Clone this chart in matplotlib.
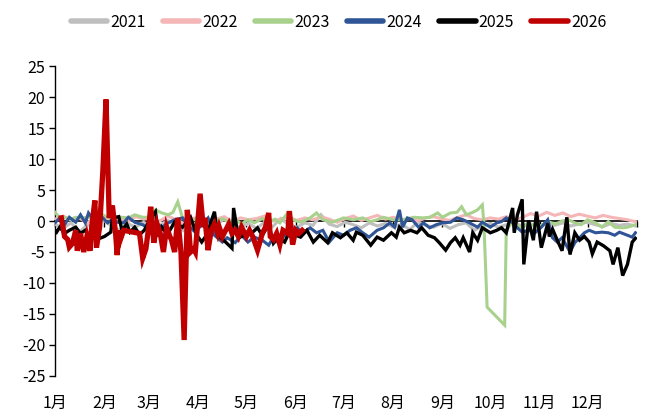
import numpy as np
import matplotlib
matplotlib.use("Agg")
import matplotlib.pyplot as plt
import matplotlib.transforms as mtransforms

plt.rcParams['font.family'] = ['Liberation Sans Narrow', 'Noto Sans CJK SC', 'DejaVu Sans']

# ---------------- data ----------------
month_labels = ["1月", "2月", "3月", "4月", "5月", "6月", "7月", "8月", "9月", "10月", "11月", "12月"]
month_start_days = [0, 31, 59, 90, 120, 151, 181, 212, 243, 273, 304, 334]
yticks = [-25, -20, -15, -10, -5, 0, 5, 10, 15, 20, 25]
years = ["2021", "2022", "2023", "2024", "2025", "2026"]

v2021 = [-0.5, -1.2, -0.3, -1.8, -0.6, -1.0, 0.2, -0.8, -1.5, -0.4, -1.0, -0.2, -1.3, -0.7, 0.1,
         -0.9, -1.6, -0.5, -0.3, -1.1, -0.6, 0.3, -0.8, -1.0, -0.4, -1.2, -0.2, -0.9, 0.4, -0.6,
         -1.0, -0.3, -0.7, 1.0, -0.5, -0.9, -0.2, -0.6, -1.1, -0.3, -0.8, -0.4, -1.0, -0.5, -1.4,
         -0.2, -0.7, -1.0, -0.4, -1.2, -0.6, -0.3, -1.5, -0.8, -0.4, -1.0, -0.6, -0.2, -0.9, -0.5,
         -1.1, -0.4, -0.7, -0.3, -0.8, -0.5, -0.2, -0.6, -0.9, -0.4, -0.7, -0.5, -0.8]

v2022 = [0.3, 0.8, 0.2, 0.5, -0.3, 0.6, 0.9, 0.1, 0.4, -0.2, 0.7, 0.3, 0.5, 0.0, 0.8, 0.2, -0.4,
         0.4, 0.6, 0.1, 0.3, 0.7, -0.1, 0.5, 0.2, 0.4, 0.8, 0.0, 0.3, 0.6, 0.1, 0.5, 0.2, 0.7, 0.3,
         -0.2, 0.4, 0.8, 0.1, 0.5, 0.9, 0.3, 0.6, 0.2, 0.4, 0.0, 0.5, 0.7, 0.3, 0.1, 0.6, 1.0, 0.4,
         0.2, 0.5, 0.3, 0.7, 0.1, 0.6, 1.2, 0.8, 1.4, 0.9, 1.3, 0.7, 1.1, 0.8, 0.5, 0.9, 0.6, 0.4,
         0.2, -0.1]

d2023 = [0, 3, 6, 9, 13, 17, 21, 25, 30, 33, 38, 42, 46, 50, 55, 58, 63, 67, 71, 74, 77, 80, 83,
         88, 92, 96, 100, 105, 109, 113, 117, 121, 125, 130, 134, 138, 141, 146, 149, 154, 160,
         164, 168, 174, 181, 187, 193, 198, 202, 206, 212, 218, 225, 231, 235, 240, 243, 248, 252,
         255, 258, 262, 265, 268, 269, 271, 282, 283, 287, 292, 297, 303, 309, 314, 318, 322, 326,
         330, 334, 339, 343, 347, 351, 356, 359, 364]
v2023 = [1.4, 0.5, 0.6, 0.2, 0.6, 0.5, 0.6, 0.5, 1.0, 0.6, 0.5, 0.6, 0.5, 1.0, 0.6, 0.6, 1.8, 1.3,
         1.0, 1.4, 3.1, 0.5, -0.2, 0.3, -0.4, 0.2, -0.3, 0.4, -0.2, 0.3, -0.5, 0.2, -0.3, 0.4, -0.2,
         0.3, -0.3, 1.3, 0.2, -0.2, 0.5, 1.3, 0.2, -0.2, 0.5, 0.2, 0.5, -0.1, 0.2, 0.6, 0.2, 0.2,
         0.6, 0.5, 0.6, 1.3, 0.6, 1.3, 1.4, 2.3, 1.0, 1.4, 1.8, 2.6, -0.5, -13.9, -16.8, -1.5, -0.1,
         -1.1, -0.3, -1.0, -0.1, -0.5, 0.0, 0.2, -0.3, -0.6, 0.2, -0.3, -1.0, -0.1, -1.0, -1.1,
         -1.0, -0.6]

d2024 = [0, 3, 6, 9, 13, 16, 19, 21, 24, 27, 30, 33, 36, 39, 43, 46, 50, 55, 58, 63, 67, 71, 75,
         80, 83, 88, 92, 96, 100, 105, 108, 113, 117, 121, 125, 130, 134, 137, 140, 144, 149, 152,
         155, 160, 164, 168, 172, 177, 181, 185, 189, 193, 197, 202, 206, 210, 213, 216, 218, 221,
         224, 228, 231, 235, 239, 243, 248, 252, 256, 260, 265, 268, 273, 277, 280, 283, 287, 290,
         293, 297, 301, 305, 309, 312, 315, 318, 323, 326, 329, 332, 335, 339, 343, 347, 351, 354,
         359, 362, 364]
v2024 = [-0.3, 0.5, -0.6, 0.6, -0.2, 1.0, -0.3, 1.3, 0.2, -0.2, 0.5, -0.3, 0.2, -0.2, -0.3, 0.6,
         -0.2, -0.6, -1.1, -0.2, -1.0, -0.3, 0.2, 0.5, -0.6, -1.8, -0.6, 0.5, -2.3, -3.4, -2.7,
         -3.5, -2.3, -3.4, -2.6, -3.1, -3.9, -2.6, -3.5, -2.3, -1.8, -1.1, -2.0, -1.1, -1.9, -1.5,
         -3.4, -1.9, -2.3, -1.5, -1.1, -1.9, -2.6, -1.5, -1.1, -0.3, -1.0, 1.8, -1.0, 0.5, 0.2,
         -1.0, -0.3, -1.1, -0.6, -0.3, -0.2, 0.5, 0.2, -0.3, -1.0, -0.2, -1.0, -0.3, -0.1, 0.5,
         -0.3, -1.1, -1.8, -1.5, -1.9, -1.0, 0.2, -2.7, -3.4, -2.7, -5.0, -3.5, -2.7, -1.9, -1.5,
         -1.9, -1.8, -1.9, -2.3, -1.8, -2.3, -2.6, -1.9]

d2025 = [0, 1, 3, 6, 9, 13, 16, 19, 22, 25, 28, 31, 35, 36, 40, 42, 45, 47, 50, 53, 56, 60, 63,
         65, 67, 70, 72, 75, 80, 85, 89, 92, 95, 100, 102, 107, 111, 112, 115, 119, 124, 127, 130,
         134, 137, 140, 144, 147, 151, 154, 158, 162, 166, 171, 174, 179, 183, 187, 189, 193, 198,
         202, 206, 211, 214, 216, 219, 223, 227, 230, 234, 238, 241, 245, 248, 251, 254, 256, 260,
         262, 265, 268, 273, 277, 280, 283, 287, 288, 290, 293, 294, 297, 300, 302, 305, 309, 310,
         312, 315, 318, 321, 323, 326, 329, 332, 335, 337, 340, 344, 348, 350, 353, 356, 359, 362,
         364]
v2025 = [-1.5, -1.8, -1.0, -2.0, -1.5, -1.0, -2.0, -1.5, -2.5, -2.0, -2.8, -2.5, -1.8, 0.5, 0.7,
         -1.5, -0.5, -1.8, -1.0, -2.2, -1.5, 0.5, 1.5, -2.5, -1.0, -2.0, -1.5, -0.2, -1.0, 0.6,
         -2.3, -3.4, -2.3, 1.5, -2.3, -3.4, -4.4, 2.1, -2.7, -2.3, -1.8, -1.1, -2.3, -0.6, -3.6,
         -2.7, -3.4, -1.8, -2.3, -2.6, -1.5, -3.4, -2.3, -3.5, -1.9, -2.7, -1.9, -3.1, -1.8, -2.3,
         -3.9, -2.6, -3.1, -1.9, -2.6, -1.0, -1.9, -1.5, -1.9, -1.1, -2.3, -2.7, -3.5, -4.7, -3.5,
         -2.7, -3.9, -2.7, -5.0, -1.9, -3.1, -1.1, -1.9, -1.5, -1.1, -1.9, 2.1, -1.9, 1.0, 3.5,
         -7.0, 0.1, -3.1, 1.5, -4.3, -0.4, -2.5, -1.3, -3.1, -4.8, 0.6, -5.4, -1.9, -3.1, -2.5,
         -3.4, -5.3, -3.4, -4.0, -4.8, -7.0, -4.3, -8.8, -7.0, -3.4, -2.8]

d2026 = [4, 6, 8, 9, 11, 13, 14, 16, 18, 20, 22, 23, 25, 26, 28, 30, 32, 34, 36, 38, 39, 40, 41,
         43, 53, 55, 57, 59, 60, 62, 64, 66, 68, 70, 72, 73, 75, 77, 79, 81, 83, 85, 87, 88, 91,
         93, 94, 96, 98, 100, 102, 103, 105, 107, 109, 111, 113, 115, 117, 119, 120, 122, 124,
         127, 130, 132, 134, 135, 137, 139, 141, 143, 146, 147, 149, 151, 153, 155]
v2026 = [0.5, -2.5, -3.0, -4.2, -3.6, -1.5, -4.8, -2.0, -5.0, -2.5, -4.8, -1.0, 3.3, -4.3, -1.0,
         8.0, 19.6, 0.5, 2.5, -2.0, -5.5, -1.5, -3.0, -1.5, -2.0, -6.0, -4.5, -0.5, 2.3, -3.5,
         -0.5, -2.0, -5.0, -1.0, -2.5, -3.0, -5.0, 0.5, -5.0, -19.2, 1.8, -5.0, -4.5, -5.0, 4.4,
         -1.0, 0.5, -4.7, -1.5, -0.5, -2.0, -1.0, -2.5, -1.5, -0.5, -2.0, -1.5, -2.5, -1.0, -2.0,
         -2.5, -1.5, -2.5, -4.7, -2.0, -1.0, 1.3, -2.5, -3.0, -2.0, -3.8, -1.5, -2.0, 1.6, -3.8,
         -1.5, -2.0, -1.5]

colors = ["#BFBFBF", "#F4B6B6", "#A9D18E", "#2F5597", "#000000", "#C00000"]
widths = [2.2, 2.2, 2.2, 2.2, 2.4, 3.8]

# ---------------- figure ----------------
fig = plt.figure(figsize=(6.61, 4.16), dpi=100)
ax = fig.add_axes([0.0832, 0.0962, 0.8805, 0.7451])

series = [
    (np.linspace(0, 364, len(v2021)), v2021),
    (np.linspace(0, 364, len(v2022)), v2022),
    (d2023, v2023),
    (d2024, v2024),
    (d2025, v2025),
    (d2026, v2026),
]
for (d, v), lab, c, w in zip(series, years, colors, widths):
    ax.plot(d, v, color=c, lw=w, label=lab, solid_joinstyle='miter', zorder=3)

ax.set_xlim(0, 365)
ax.set_ylim(-25, 25)
ax.set_yticks(yticks)
ax.set_yticklabels([str(t) for t in yticks], fontsize=11.5)
ax.tick_params(axis='y', direction='out', length=4, width=1, pad=3)

for s in ['top', 'right']:
    ax.spines[s].set_visible(False)
ax.spines['left'].set_linewidth(1)
ax.spines['bottom'].set_position(('data', 0))
ax.spines['bottom'].set_linewidth(1.2)
ax.spines['bottom'].set_zorder(1)
ax.set_xticks(month_start_days + [365])
ax.set_xticklabels([])
ax.tick_params(axis='x', direction='out', length=4, width=1)

trans = mtransforms.blended_transform_factory(ax.transData, ax.transAxes)
for lab, d in zip(month_labels, month_start_days):
    ax.text(d, -0.088, lab, transform=trans, ha='center', va='center', fontsize=11.5)

leg = fig.legend(loc='center', bbox_to_anchor=(0.512, 0.947), ncol=6, frameon=False,
                 fontsize=11.5, handlelength=2.3, handletextpad=0.2, columnspacing=1.05)
for ln in leg.get_lines():
    ln.set_linewidth(4)
    ln.set_solid_capstyle('round')

fig.savefig("out.png", dpi=100)
